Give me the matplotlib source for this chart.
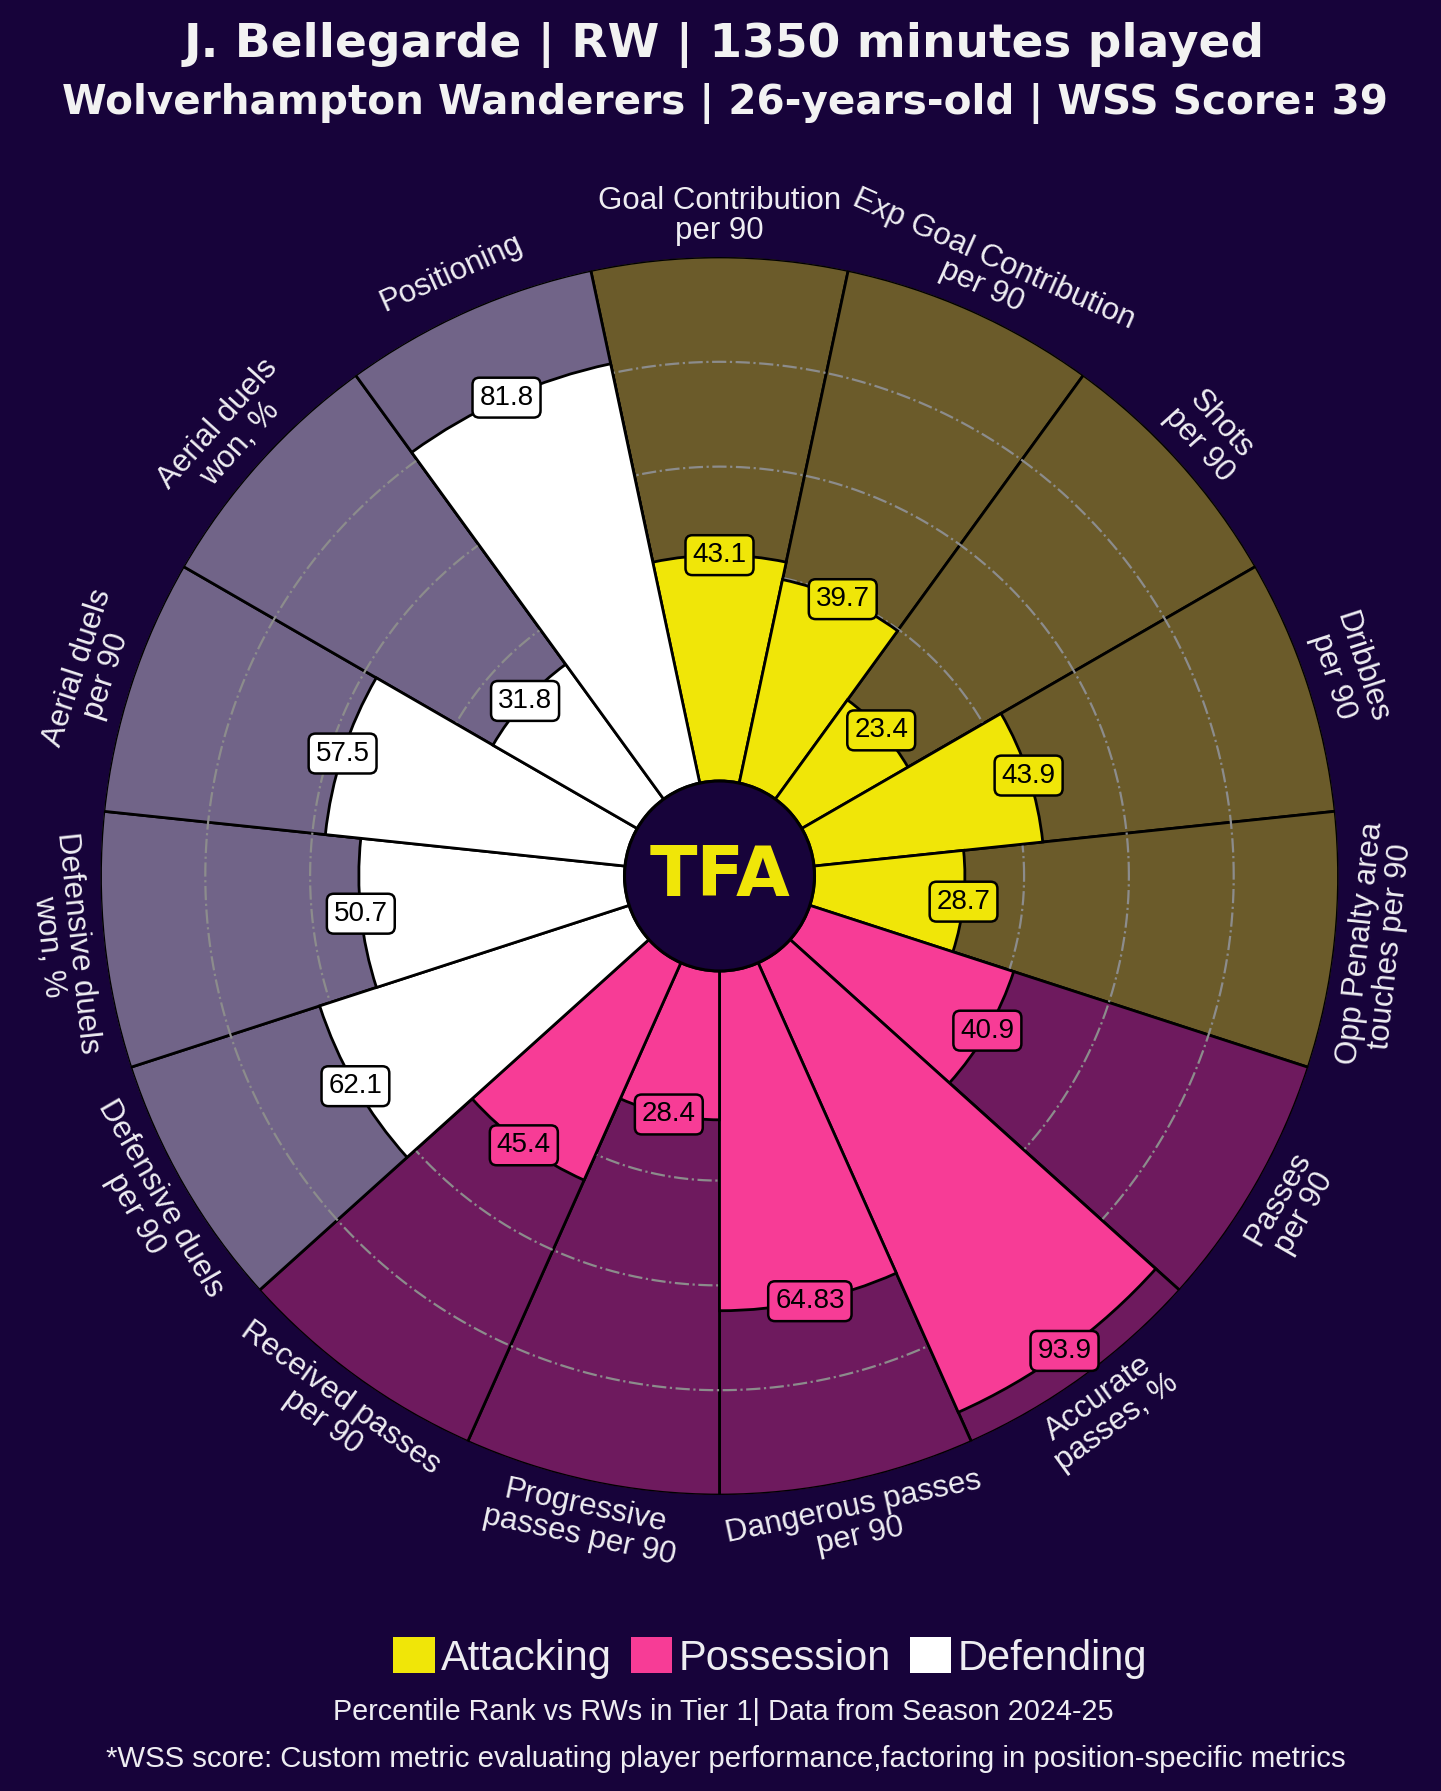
import numpy as np
import matplotlib
matplotlib.use("Agg")
import matplotlib.pyplot as plt
from matplotlib.patches import Circle, Patch

# ---------------- data ----------------
params = [
    "Goal Contribution\nper 90", "Exp Goal Contribution\nper 90", "Shots\nper 90",
    "Dribbles\nper 90", "Opp Penalty area\ntouches per 90",
    "Passes\nper 90", "Accurate\npasses, %", "Dangerous passes\nper 90",
    "Progressive\npasses per 90", "Received passes\nper 90",
    "Defensive duels\nper 90", "Defensive duels\nwon, %", "Aerial duels\nper 90",
    "Aerial duels\nwon, %", "Positioning",
]
values = [43.1, 39.7, 23.4, 43.9, 28.7,
          40.9, 93.9, 64.83, 28.4, 45.4,
          62.1, 50.7, 57.5, 31.8, 81.8]
value_labels = ["43.1", "39.7", "23.4", "43.9", "28.7",
                "40.9", "93.9", "64.83", "28.4", "45.4",
                "62.1", "50.7", "57.5", "31.8", "81.8"]
groups = ["Attacking"] * 5 + ["Possession"] * 5 + ["Defending"] * 5
group_names = ["Attacking", "Possession", "Defending"]

title1 = "J. Bellegarde | RW | 1350 minutes played"
title2 = "Wolverhampton Wanderers | 26-years-old | WSS Score: 39"
footer1 = "Percentile Rank vs RWs in Tier 1| Data from Season 2024-25"
footer2 = "*WSS score: Custom metric evaluating player performance,factoring in position-specific metrics"

# ---------------- style ----------------
BG = "#17033A"
fg_colors = {"Attacking": "#F0E608", "Possession": "#F73C96", "Defending": "#FFFFFF"}
bg_colors = {"Attacking": "#6B5B2A", "Possession": "#6E1A5E", "Defending": "#716488"}
TXT = "#EEEDF2"
FONT = "Liberation Sans"

W, H = 1441, 1791
fig = plt.figure(figsize=(W / 100, H / 100), dpi=100, facecolor=BG)

cx, cy, R = 719.5, 876, 619
ax = fig.add_axes([(cx - R) / W, 1 - (cy + R) / H, 2 * R / W, 2 * R / H], projection="polar")
ax.set_facecolor(BG)

HOLE = 95 / (R - 95) * 100
n = len(params)
width = 2 * np.pi / n
theta = np.deg2rad(90 - np.arange(n) * 360 / n)

fgc = [fg_colors[g] for g in groups]
bgc = [bg_colors[g] for g in groups]

ax.bar(theta, [100] * n, width=width, bottom=HOLE, color=bgc, edgecolor="black", linewidth=2, zorder=1)
tt = np.linspace(0, 2 * np.pi, 721)
for g in [20, 40, 60, 80]:
    ax.plot(tt, np.full_like(tt, HOLE + g), color="#8C8C8C", ls="-.", lw=1.6, zorder=2)
ax.bar(theta, values, width=width, bottom=HOLE, color=fgc, edgecolor="black", linewidth=2, zorder=3)

ax.set_ylim(0, 100 + HOLE)
ax.set_xticks([])
ax.set_yticks([])
ax.grid(False)
ax.spines["polar"].set_visible(False)

circ = Circle((0.5, 0.5), HOLE / (100 + HOLE) / 2, transform=ax.transAxes,
              facecolor=BG, edgecolor="black", lw=2.2, zorder=6)
ax.add_patch(circ)
ax.text(0.5, 0.5, "TFA", transform=ax.transAxes, ha="center", va="center",
        fontsize=50, fontweight="heavy", family="DejaVu Sans", color="#F0E608", zorder=7)

# value boxes
for th, v, lab, c in zip(theta, values, value_labels, fgc):
    ax.text(th, HOLE + v, lab, ha="center", va="center", fontsize=20, family=FONT,
            color="black", zorder=8,
            bbox=dict(boxstyle="round,pad=0.25", facecolor=c, edgecolor="black", lw=1.8))

# param labels
RL = 660 / R * (100 + HOLE)
for th, p in zip(theta, params):
    ang = (np.rad2deg(th) + 180) % 360 - 180
    rot = ang - 90
    if rot < -90:
        rot += 180
    ax.text(th, RL, p, ha="center", va="center", rotation=rot, rotation_mode="anchor",
            fontsize=22.5, family=FONT, color=TXT, linespacing=1.0, multialignment="center")

# titles
fig.text(724 / W, 1 - 45 / H, title1, ha="center", va="center", fontsize=33.8,
         fontweight="bold", family="DejaVu Sans", color="#F2F2F2")
fig.text(725 / W, 1 - 103 / H, title2, ha="center", va="center", fontsize=29.2,
         fontweight="bold", family="DejaVu Sans", color="#F2F2F2")

# legend
handles = [Patch(facecolor=fg_colors[g], edgecolor="none", label=g) for g in group_names]
leg = fig.legend(handles=handles, loc="center", bbox_to_anchor=(770 / W, 1 - 1658 / H),
                 ncol=3, frameon=False, handlelength=1.0, handleheight=0.95,
                 handletextpad=0.15, columnspacing=0.45, borderaxespad=0,
                 prop={"family": FONT, "size": 30})
for t in leg.get_texts():
    t.set_color(TXT)

fig.text(723 / W, 1 - 1712 / H, footer1, ha="center", va="center", fontsize=20.7,
         family=FONT, color=TXT)
fig.text(726 / W, 1 - 1759 / H, footer2, ha="center", va="center", fontsize=21.2,
         family=FONT, color=TXT)

fig.savefig("out.png", dpi=100, facecolor=BG)
